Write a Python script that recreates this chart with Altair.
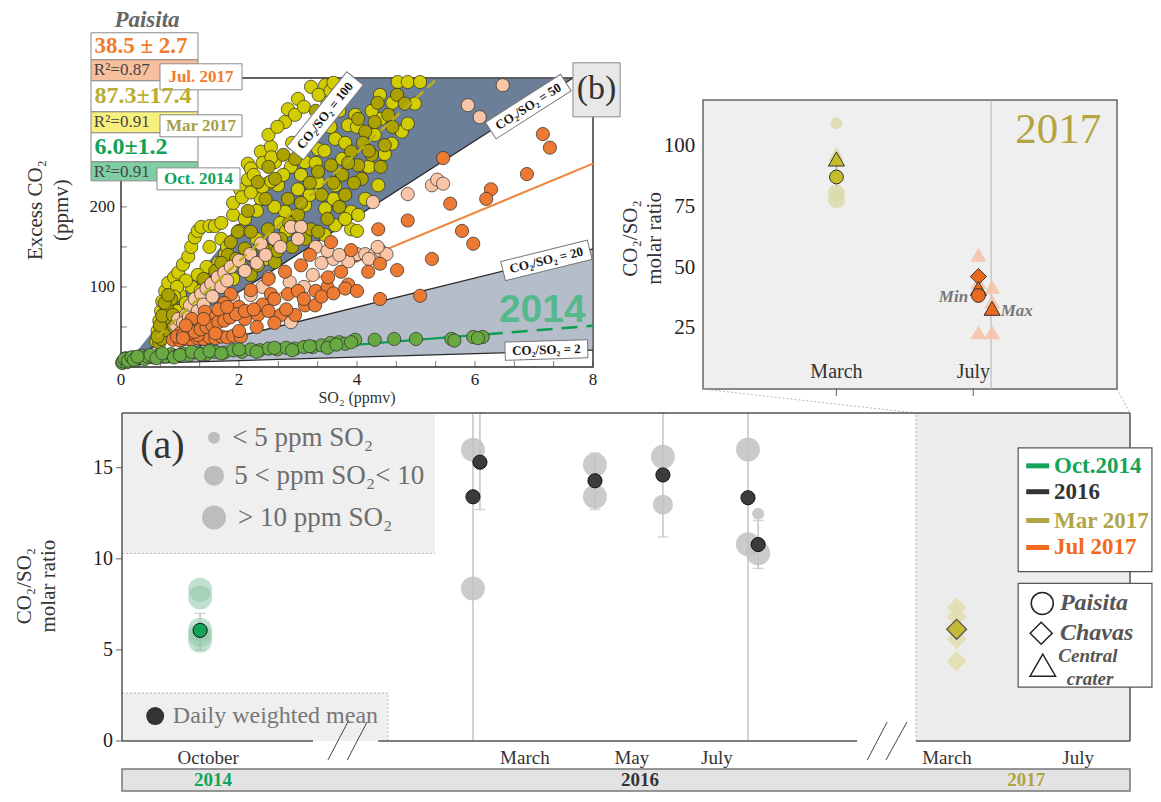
import math
import altair as alt
import pandas as pd

SERIF = "Liberation Serif"
SANS = "Liberation Sans"

# ===================== Panel (b): SO2 vs excess CO2 (ppmv) =====================
mar2017_bright = [
    (0.6, 32), (0.62, 45), (0.65, 58), (0.68, 70), (0.7, 82), (0.75, 95), (0.8, 105), (0.9, 112), (0.97, 118),
    (1.05, 128), (1.14, 138), (1.19, 150), (1.25, 162), (1.3, 170), (1.36, 175), (1.5, 176), (1.59, 176),
    (1.7, 180), (1.76, 140), (1.98, 131), (1.9, 190), (2.02, 222), (2.15, 234), (2.15, 254), (2.2, 248),
    (2.37, 269), (2.37, 210), (2.54, 275), (2.61, 256), (2.66, 227), (2.78, 306), (2.78, 194), (2.83, 322),
    (2.88, 250), (3.0, 335), (3.0, 222), (3.12, 256), (3.12, 202), (3.22, 350), (3.34, 272), (3.34, 231),
    (3.46, 352), (3.46, 198), (3.63, 285), (3.63, 227), (3.63, 177), (3.85, 302), (3.9, 194), (3.9, 172),
    (3.97, 315), (4.02, 190), (4.14, 210), (4.36, 227), (4.47, 266), (4.59, 279), (4.76, 294), (4.86, 304),
    (4.98, 329), (4.39, 340), (4.69, 356), (4.86, 356), (5.07, 356), (3.3, 300), (3.5, 330), (2.9, 280),
    (2.5, 230), (2.3, 195), (2.0, 170), (1.7, 160), (1.5, 150), (2.1, 185), (3.75, 260), (3.2, 215),
    (2.7, 180), (4.2, 250), (4.3, 290), (1.2, 100), (1.0, 90), (0.85, 75), (0.7, 40),
    (1.9, 205), (2.05, 212), (2.2, 218), (2.4, 225), (2.55, 232), (2.75, 240), (2.4, 255), (2.55, 262),
    (2.25, 240), (2.5, 290), (2.65, 300), (2.95, 315), (3.1, 325), (3.35, 340), (3.55, 345), (3.6, 355),
    (3.15, 290), (3.45, 270), (3.55, 300), (3.7, 320), (3.8, 280), (4.0, 300), (4.4, 310), (4.6, 330),
    (4.25, 320), (1.8, 150), (1.65, 130), (1.45, 125), (1.3, 115), (1.1, 108), (0.95, 100), (0.9, 88),
    (0.8, 60), (0.75, 50), (0.95, 70), (1.1, 80), (1.35, 95), (1.55, 105), (2.3, 160), (2.6, 200),
    (2.8, 170), (3.05, 240), (3.3, 255), (3.6, 210), (3.8, 185), (4.0, 170), (3.45, 165), (2.45, 135),
    (2.2, 140), (1.9, 110)]
mar2017_dark = [
    (0.65, 30), (0.68, 42), (0.7, 50), (0.72, 60), (0.75, 68), (0.78, 76), (0.82, 55), (0.85, 85), (0.68, 35),
    (0.74, 46), (1.81, 140), (1.86, 156), (1.98, 169), (2.1, 148), (2.2, 115), (2.2, 169), (2.32, 127),
    (2.32, 231), (2.49, 172), (2.61, 131), (2.61, 235), (2.71, 160), (2.83, 210), (3.12, 160), (3.22, 172),
    (3.34, 169), (3.34, 244), (3.56, 252), (3.9, 269), (4.02, 310), (4.02, 252), (4.08, 235), (4.14, 294),
    (4.25, 265), (4.3, 306), (4.47, 277), (4.53, 315), (4.68, 340), (4.81, 329), (3.7, 200), (3.8, 215),
    (3.95, 230), (3.0, 190), (2.9, 150), (2.5, 145), (1.6, 120), (1.4, 110), (3.5, 185), (4.1, 280), (3.75, 240),
    (0.62, 38), (0.66, 52), (0.7, 64), (0.74, 80), (0.8, 90), (0.88, 65), (0.9, 50), (1.7, 130), (1.95, 135),
    (2.05, 125), (2.4, 150), (2.65, 145), (2.85, 180), (3.05, 205), (3.2, 230), (3.4, 215), (3.6, 230),
    (3.85, 255), (4.2, 270), (4.35, 330), (4.6, 300), (4.4, 250), (3.1, 280), (2.95, 260), (2.75, 265),
    (2.5, 250), (2.45, 210), (2.15, 195), (3.6, 320), (3.3, 320)]
jul2017_light = [
    (0.93, 52), (0.97, 60), (1.05, 45), (1.1, 65), (1.17, 77), (1.25, 85), (1.36, 91), (1.45, 98), (1.53, 104),
    (1.64, 112), (1.75, 118), (1.86, 125), (2.0, 133), (2.19, 141), (2.37, 154), (2.88, 175), (3.05, 175),
    (3.25, 115), (2.86, 106), (2.88, 56), (3.97, 140), (4.0, 141), (4.14, 141), (4.3, 141), (4.2, 135),
    (4.4, 145), (4.5, 141), (4.35, 150), (4.27, 206), (4.86, 216), (5.27, 227), (5.36, 234), (5.46, 229),
    (5.88, 327), (6.08, 312), (6.47, 352), (3.1, 100), (3.4, 130), (3.6, 135), (2.6, 160), (1.2, 55),
    (1.0, 40), (3.85, 132), (2.5, 112),
    (1.05, 55), (1.15, 62), (1.3, 70), (1.4, 78), (1.55, 88), (1.7, 100), (1.8, 108), (2.1, 120), (2.3, 130),
    (2.45, 140), (2.7, 150), (3.0, 160), (3.3, 150), (3.5, 145), (3.7, 140), (2.2, 90), (2.4, 100), (1.6, 70),
    (1.9, 85)]
jul2017_orange = [
    (0.88, 34), (1.0, 33), (1.1, 35), (1.2, 34), (1.3, 36), (1.4, 35), (1.5, 37), (1.6, 36), (1.7, 38),
    (1.8, 37), (1.9, 39), (2.03, 38), (1.0, 42), (1.2, 45), (1.3, 50), (1.42, 69), (1.2, 60), (1.5, 55),
    (1.6, 62), (1.86, 91), (2.2, 96), (2.54, 91), (2.83, 91), (3.05, 127), (3.56, 156), (3.73, 119),
    (3.85, 103), (2.32, 65), (2.71, 65), (2.95, 65), (3.12, 77), (3.29, 77), (2.1, 60), (2.0, 75), (1.75, 80),
    (2.4, 78), (2.6, 85), (3.0, 95), (3.3, 95), (3.5, 100), (4.36, 172), (4.39, 129), (4.19, 119), (4.68, 121),
    (5.27, 135), (5.78, 170), (5.97, 154), (4.39, 85), (5.07, 89), (5.46, 261), (6.56, 312), (7.15, 291),
    (7.27, 274), (6.88, 241), (6.27, 222), (6.19, 210), (5.58, 204), (4.86, 183), (3.9, 146), (3.51, 112),
    (2.78, 119), (3.2, 140), (2.5, 110), (1.3, 40), (1.15, 48),
    (0.95, 38), (1.05, 40), (1.15, 42), (1.25, 44), (1.35, 47), (1.45, 50), (1.55, 52), (1.65, 56), (1.75, 58),
    (1.85, 62), (1.95, 66), (2.1, 70), (2.25, 72), (1.4, 60), (1.1, 52), (1.65, 72), (1.8, 75), (2.5, 70),
    (2.8, 72), (3.1, 85), (3.4, 88), (3.6, 92), (3.8, 98), (4.0, 95), (1.05, 36), (1.6, 42), (2.0, 45),
    (2.3, 50), (2.6, 55)]
oct2014_green = [
    (0.02, 5), (0.05, 8), (0.08, 11), (0.1, 6), (0.15, 9), (0.2, 12), (0.25, 8), (0.3, 11), (0.35, 14),
    (0.4, 10), (0.45, 13), (0.55, 12), (0.65, 15), (0.75, 13), (0.85, 16), (0.95, 14), (1.05, 17), (1.15, 15),
    (1.3, 18), (1.45, 16), (1.6, 19), (1.75, 18), (1.9, 21), (2.05, 19), (2.2, 22), (2.35, 21), (2.5, 23),
    (2.65, 22), (2.8, 24), (2.95, 23), (3.1, 25), (3.25, 25), (3.4, 27), (3.55, 30), (3.7, 31), (3.8, 29),
    (3.97, 34), (4.3, 34), (4.63, 35), (5.0, 35), (5.6, 35), (5.65, 33), (5.97, 37.5), (6.13, 37.5), (6.05, 36),
    (0.03, 7), (0.06, 10), (0.12, 8), (0.18, 12), (0.22, 9), (0.28, 13), (0.5, 15), (0.6, 11), (0.7, 17),
    (0.9, 12), (1.0, 15), (1.2, 19), (1.35, 16), (1.5, 20), (1.7, 17), (2.0, 22), (2.3, 19), (2.6, 24),
    (2.9, 21), (3.2, 26), (3.5, 24), (3.65, 28), (3.9, 31)]

fit_jul2017 = [(0.9, 37), (8.0, 254)]
fit_mar2017 = [(0.61, 37.5), (5.37, 361)]
fit_oct2014_solid = [(0.0, 4), (6.2, 41)]
fit_oct2014_dash = [(6.2, 41), (8.0, 51.5)]

ratio_labels = ["CO₂/SO₂ = 100", "CO₂/SO₂ = 50", "CO₂/SO₂ = 20", "CO₂/SO₂ = 2"]
ratio_start = (0.1, 4)
ratio_end_so2 = [3.97, 7.66, 8.0, 8.0]
ratio_end_co2 = [361, 361, 147.5, 21]
dark_wedge_so2 = [0.1, 3.97, 7.66]
dark_wedge_top = [4, 361, 361]
dark_wedge_bottom = [4, 186.7, 361]
light_wedge_so2 = [0.1, 8.0]
light_wedge_top = [4, 147.5]
light_wedge_bottom = [4, 21]

slope_values = ["38.5 ± 2.7", "87.3±17.4", "6.0±1.2"]
r2_values = ["R²=0.87", "R²=0.91", "R²=0.91"]
campaigns_b = ["Jul. 2017", "Mar 2017", "Oct. 2014"]
campaign_colors_b = ["#f07c2c", "#a69e48", "#0ea356"]
r2_fills = ["#f7bf9c", "#f8f07e", "#7fcea4"]

# ===================== Top-right panel: 2017 CO2/SO2 =====================
tr_faded_x = [3, 3, 3, 3, 7.15, 7.15, 7.15, 7.55, 7.55, 7.55]
tr_faded_y = [109.4, 80.7, 77.9, 97, 55.3, 44, 23.4, 42, 36, 23.4]
tr_faded_shape = ["circle", "circle", "circle", "triangle-up", "triangle-up", "triangle-up", "triangle-up",
                  "triangle-up", "triangle-up", "triangle-up"]
tr_faded_month = ["Mar", "Mar", "Mar", "Mar", "Jul", "Jul", "Jul", "Jul", "Jul", "Jul"]
tr_mean_x = [3, 3, 7.15, 7.15, 7.15, 7.55]
tr_mean_y = [94.7, 87.3, 46.3, 41.4, 38.5, 33.2]
tr_mean_shape = ["triangle-up", "circle", "diamond", "triangle-up", "circle", "triangle-up"]
tr_mean_month = ["Mar", "Mar", "Jul", "Jul", "Jul", "Jul"]
tr_err_x = [3]
tr_err_lo = [83]
tr_err_hi = [92]

# ===================== Panel (a): CO2/SO2 molar ratio time series =====================
faded_pos = [1.46, 1.46, 1.46, 1.46, 1.46, 6.56, 6.56, 8.84, 8.84, 10.11, 10.11, 11.7, 11.7, 11.89, 11.89]
faded_ratio = [8.3, 7.88, 6.1, 5.8, 5.5, 15.98, 8.37, 15.16, 13.4, 15.6, 12.97, 16.0, 10.8, 12.47, 10.3]
faded_class = [">10", ">10", ">10", ">10", ">10", ">10", ">10", ">10", ">10", ">10", "5-10", ">10", ">10",
               "<5", ">10"]
faded_year = ["2014"] * 5 + ["2016"] * 10
mean_pos = [1.46, 6.56, 6.69, 8.84, 10.11, 11.7, 11.89]
mean_ratio = [6.07, 13.4, 15.3, 14.28, 14.6, 13.35, 10.78]
mean_year = ["2014", "2016", "2016", "2016", "2016", "2016", "2016"]
err_pos = [1.46, 6.69, 8.84, 10.11, 11.89]
err_lo = [5.0, 12.7, 12.7, 11.2, 9.47]
err_hi = [7.0, 18.0, 15.8, 18.0, 12.1]
full_err_pos = [6.56, 11.7]
chavas_pos = 15.6
chavas_faded = [7.33, 6.8, 5.6, 4.38]
chavas_mean = 6.13
month_labels = ["October", "March", "May", "July", "March", "July"]
month_pos = [1.61, 7.53, 9.53, 11.12, 15.42, 17.87]
years = ["2014", "2016", "2017"]
year_pos = [1.70, 9.68, 16.9]
year_colors = ["#14a35a", "#333333", "#b0a53f"]
legend_series = ["Oct.2014", "2016", "Mar 2017", "Jul 2017"]
legend_colors = ["#14a35a", "#333333", "#b1a545", "#f26a1b"]
legend_sites = ["Paisita", "Chavas", "Central", "crater"]
size_classes = ["< 5 ppm SO₂", "5 < ppm SO₂< 10", "> 10 ppm SO₂"]
size_px = {"<5": 144, "5-10": 400, ">10": 576}

# ------------------------------------------------------------------
# One canvas; each panel gets its own scales placed on it.
W, H, OFF = 1145, 786, 8


def xscale(p0, p1, d0, d1):
    k = (p1 - p0) / (d1 - d0)
    return alt.Scale(domain=[d0 + (OFF - p0) / k, d0 + (W + OFF - p0) / k], nice=False, zero=False)


def yscale(p0, p1, d0, d1):
    k = (p1 - p0) / (d1 - d0)
    return alt.Scale(domain=[d0 + (H + OFF - p0) / k, d0 + (OFF - p0) / k], nice=False, zero=False)


XB, YB = xscale(121, 593, 0, 8), yscale(367, 78, 0, 361)
KXB, KYB = 472 / 8, 289 / 361
XT, YT = xscale(703, 1117, -0.9, 11.2), yscale(389, 100, 0, 119)
XA, YA = xscale(122, 1130, 0, 18.84), yscale(741, 413, 0, 18)


def qx(f, sc):
    return alt.X(f, type="quantitative", scale=sc, axis=None)


def qy(f, sc):
    return alt.Y(f, type="quantitative", scale=sc, axis=None)


def pairs_df(pairs):
    return pd.DataFrame({"so2": [p[0] for p in pairs], "co2": [p[1] for p in pairs]})


def text_layer(rows, sx, sy, **mk):
    df = pd.DataFrame(rows, columns=["t", "x", "y", "c", "s"])
    opts = dict(font=SERIF, baseline="middle")
    opts.update(mk)
    return alt.Chart(df).mark_text(**opts).encode(
        x=qx("x", sx), y=qy("y", sy), text="t:N",
        color=alt.Color("c:N", scale=None), size=alt.Size("s:Q", scale=None))


def seg_layer(rows, sx, sy, **mk):
    df = pd.DataFrame(rows, columns=["x1", "y1", "x2", "y2"])
    return alt.Chart(df).mark_rule(**mk).encode(
        x=qx("x1", sx), y=qy("y1", sy), x2=alt.X2("x2"), y2=alt.Y2("y2"))


def rect_layer(rows, sx, sy, **mk):
    df = pd.DataFrame(rows, columns=["x1", "x2", "y1", "y2", "fill"])
    return alt.Chart(df).mark_rect(**mk).encode(
        x=qx("x1", sx), x2=alt.X2("x2"), y=qy("y1", sy), y2=alt.Y2("y2"),
        color=alt.Color("fill:N", scale=None))


def frame_layer(x0, x1, y0, y1, sx, sy, **mk):
    df = pd.DataFrame({"x1": [x0], "x2": [x1], "y1": [y0], "y2": [y1]})
    return alt.Chart(df).mark_rect(**mk).encode(
        x=qx("x1", sx), x2=alt.X2("x2"), y=qy("y1", sy), y2=alt.Y2("y2"))


# ===================== panel (b) =====================
b_frame = frame_layer(0, 8, 0, 361, XB, YB, fill="white", stroke="#555", strokeWidth=1.3)
b_dark = alt.Chart(pd.DataFrame({"x": dark_wedge_so2, "hi": dark_wedge_top, "lo": dark_wedge_bottom})
                   ).mark_area(color="#6b7f99", opacity=1).encode(x=qx("x", XB), y=qy("hi", YB), y2=alt.Y2("lo"))
b_light = alt.Chart(pd.DataFrame({"x": light_wedge_so2, "hi": light_wedge_top, "lo": light_wedge_bottom})
                    ).mark_area(color="#b5bdcb", opacity=1).encode(x=qx("x", XB), y=qy("hi", YB), y2=alt.Y2("lo"))
b_border = frame_layer(0, 8, 0, 361, XB, YB, fillOpacity=0, stroke="#555", strokeWidth=1.3)

ratio_rows = [(ratio_start[0], ratio_start[1], ratio_end_so2[i], ratio_end_co2[i]) for i in range(1, 4)]
b_ratio_lines = seg_layer(ratio_rows, XB, YB, color="#2b2b2b", strokeWidth=1.3)

lab = []
for i, t in enumerate([0.868, 0.9, 0.9, 0.9]):
    x0, y0 = ratio_start
    lx = x0 + t * (ratio_end_so2[i] - x0)
    ly = y0 + t * (ratio_end_co2[i] - y0) + (2 if i == 3 else 0)
    dxp = (ratio_end_so2[i] - x0) * KXB
    dyp = (ratio_end_co2[i] - y0) * KYB
    ang = (360 - math.degrees(math.atan2(dyp, dxp))) % 360
    length = len(ratio_labels[i]) * 6.6 + 10
    lab.append({"t": ratio_labels[i], "x": lx, "y": ly, "ang": ang, "sz": length ** 2})
lab_df = pd.DataFrame(lab)
b_lab_box = alt.Chart(lab_df).mark_point(
    shape="M-1,-0.22L1,-0.22L1,0.22L-1,0.22Z", filled=True, fill="white", stroke="#777",
    strokeWidth=1, opacity=1).encode(
    x=qx("x", XB), y=qy("y", YB), angle=alt.Angle("ang:Q", scale=None), size=alt.Size("sz:Q", scale=None))
b_lab_txt = alt.Chart(lab_df).mark_text(font=SERIF, fontWeight="bold", fontSize=13, color="#151515").encode(
    x=qx("x", XB), y=qy("y", YB), text="t:N", angle=alt.Angle("ang:Q", scale=None))

fit_solid = seg_layer([fit_jul2017[0] + fit_jul2017[1]], XB, YB, color="#f0833a", strokeWidth=2)
fit_olive = seg_layer([fit_mar2017[0] + fit_mar2017[1]], XB, YB, color="#b8ae1c", strokeWidth=2.5,
                      strokeDash=[10, 6])
fit_green1 = seg_layer([fit_oct2014_solid[0] + fit_oct2014_solid[1]], XB, YB, color="#0ca050", strokeWidth=2.2)
fit_green2 = seg_layer([fit_oct2014_dash[0] + fit_oct2014_dash[1]], XB, YB, color="#0ca050", strokeWidth=2.5,
                       strokeDash=[16, 9])


def scatter(pairs, fill):
    return alt.Chart(pairs_df(pairs)).mark_circle(
        color=fill, stroke="#2a2a2a", strokeWidth=0.7, size=175, opacity=1).encode(
        x=qx("so2", XB), y=qy("co2", YB))


b_pts = [scatter(mar2017_bright, "#d2cd00"), scatter(mar2017_dark, "#aba200"),
         scatter(jul2017_light, "#f8c6a6"), scatter(jul2017_orange, "#ec7a33"),
         scatter(oct2014_green, "#69a944")]

b_2014 = text_layer([("2014", 7.14, 71, "#55b98b", 39)], XB, YB, font=SANS, fontWeight="bold")

bx0, bx1 = -0.508, 1.305
b_boxes = rect_layer([
    (bx0, bx1, 417.5, 383.75, "white"), (bx0, bx1, 383.75, 357.5, r2_fills[0]),
    (bx0, bx1, 357.5, 318.75, "white"), (bx0, bx1, 318.75, 292.5, r2_fills[1]),
    (bx0, bx1, 292.5, 256.25, "white"), (bx0, bx1, 256.25, 232.5, r2_fills[2]),
    (0.661, 2.051, 378.75, 346.25, "white"), (0.661, 2.051, 315, 287.5, "white"),
    (0.61, 2.017, 248.75, 221.25, "white"), (7.66, 8.46, 380, 312.5, "#e8e8e8")],
    XB, YB, stroke="#8a8a8a", strokeWidth=1)
b_slopes = text_layer([(slope_values[0], -0.45, 400.5, campaign_colors_b[0], 23),
                       (slope_values[1], -0.45, 338, "#b8ae35", 24),
                       (slope_values[2], -0.45, 274.5, campaign_colors_b[2], 24)],
                      XB, YB, fontWeight="bold", align="left")
b_camps = text_layer([(campaigns_b[0], 1.356, 362, campaign_colors_b[0], 17),
                      (campaigns_b[1], 1.356, 301.5, campaign_colors_b[1], 17),
                      (campaigns_b[2], 1.314, 235, campaign_colors_b[2], 17)],
                     XB, YB, fontWeight="bold", align="center")
b_r2 = text_layer([(r2_values[0], -0.46, 370.5, "#444444", 17), (r2_values[1], -0.46, 305.5, "#444444", 17),
                   (r2_values[2], -0.46, 244, "#444444", 17)], XB, YB, align="left")
b_lbl = text_layer([("(b)", 8.06, 347, "#333333", 34)], XB, YB, align="center")
b_site = text_layer([("Paisita", 0.44, 424.5, "#666666", 23)], XB, YB, fontWeight="bold", fontStyle="italic",
                    baseline="alphabetic")

so2_ticks = [0, 0.667, 1.333, 2, 2.667, 3.333, 4, 4.667, 5.333, 6, 6.667, 7.333, 8]
so2_labels = [0, 2, 4, 6, 8]
co2_ticks = [50, 100, 150, 200]
co2_labels = [100, 200]
b_xt = alt.Chart(pd.DataFrame({"v": so2_ticks, "z": 0})).mark_tick(
    orient="vertical", size=6, thickness=1, color="#444", yOffset=-3).encode(x=qx("v", XB), y=qy("z", YB))
b_yt = alt.Chart(pd.DataFrame({"v": co2_ticks, "z": 0})).mark_tick(
    orient="horizontal", size=6, thickness=1, color="#444", xOffset=3).encode(x=qx("z", XB), y=qy("v", YB))
b_xl = text_layer([(str(v), v, -16.5, "#222222", 17) for v in so2_labels], XB, YB)
b_yl = text_layer([(str(v), -0.1, v, "#222222", 17) for v in co2_labels], XB, YB, align="right")
b_xtitle = text_layer([("SO₂ (ppmv)", 4, -38.5, "#333333", 16)], XB, YB)
b_ytitle = text_layer([("Excess CO₂", -1.44, 196, "#333333", 21), ("(ppmv)", -1.0, 196, "#333333", 21)],
                      XB, YB, angle=270)

b_layers = [b_frame, b_dark, b_light, b_border, b_ratio_lines, fit_solid, fit_green1, fit_green2, *b_pts,
            fit_olive, b_lab_box, b_lab_txt, b_2014, b_boxes, b_slopes, b_camps, b_r2, b_lbl, b_site,
            b_xt, b_yt, b_xl, b_yl, b_xtitle, b_ytitle]

# ===================== top-right panel =====================
tr_frame = frame_layer(-0.9, 11.2, 0, 119, XT, YT, fill="#efefef", stroke="#666", strokeWidth=1.5)
tr_vline = seg_layer([(7.52, 0, 7.52, 119)], XT, YT, color="#b4b4b4", strokeWidth=1)
tr_err = seg_layer([(tr_err_x[0], tr_err_lo[0], tr_err_x[0], tr_err_hi[0])], XT, YT, color="#aaaaaa",
                   strokeWidth=1.5)
tr_ticks = alt.Chart(pd.DataFrame({"v": [3, 7], "z": 0})).mark_tick(
    orient="vertical", size=7, thickness=1.2, color="#444", yOffset=3.5).encode(x=qx("v", XT), y=qy("z", YT))

faded_col = {"Mar": "#dcdaa9", "Jul": "#f6c2a6"}
solid_col = {"Mar": "#c6bd2c", "Jul": "#ea6a1f"}
tr_faded_df = pd.DataFrame({"x": tr_faded_x, "y": tr_faded_y, "shape": tr_faded_shape,
                            "fill": [faded_col[m] for m in tr_faded_month],
                            "size": [144 if s == "circle" and y > 100 else (289 if s == "circle" else 260)
                                     for s, y in zip(tr_faded_shape, tr_faded_y)]})
tr_faded = alt.Chart(tr_faded_df).mark_point(filled=True, opacity=0.85, strokeWidth=0).encode(
    x=qx("x", XT), y=qy("y", YT), shape=alt.Shape("shape:N", scale=None),
    color=alt.Color("fill:N", scale=None), size=alt.Size("size:Q", scale=None))
tr_mean_df = pd.DataFrame({"x": tr_mean_x, "y": tr_mean_y, "shape": tr_mean_shape,
                           "fill": [solid_col[m] for m in tr_mean_month],
                           "size": [260 if s != "circle" else 190 for s in tr_mean_shape]})
tr_mean = alt.Chart(tr_mean_df).mark_point(filled=True, opacity=1, stroke="#333", strokeWidth=1).encode(
    x=qx("x", XT), y=qy("y", YT), shape=alt.Shape("shape:N", scale=None),
    color=alt.Color("fill:N", scale=None), size=alt.Size("size:Q", scale=None))
tr_months = text_layer([("March", 3, 7, "#333333", 20), ("July", 7, 7, "#333333", 20)], XT, YT)
tr_year = text_layer([("2017", 9.48, 106.6, "#b3a43f", 43)], XT, YT)
tr_min = text_layer([("Min", 6.85, 38, "#777777", 17)], XT, YT, align="right", fontWeight="bold",
                    fontStyle="italic")
tr_max = text_layer([("Max", 7.8, 32, "#777777", 17)], XT, YT, align="left", fontWeight="bold",
                    fontStyle="italic")
tr_yl = text_layer([(str(v), -1.13, v, "#222222", 21) for v in [25, 50, 75, 100]], XT, YT, align="right")
tr_ytitle = text_layer([("CO₂/SO₂", -3.0, 62, "#333333", 21), ("molar ratio", -2.3, 62, "#333333", 21)],
                       XT, YT, angle=270)

tr_layers = [tr_frame, tr_vline, tr_err, tr_ticks, tr_faded, tr_mean, tr_months, tr_year, tr_min, tr_max,
             tr_yl, tr_ytitle]

# ===================== panel (a) =====================
a_bg = rect_layer([(14.84, 18.84, 0, 18, "#ececec"), (0, 5.85, 10.29, 18, "#efefef"),
                   (0, 4.97, 0, 2.63, "#efefef")], XA, YA)
a_dotted = seg_layer([(14.84, 0, 14.84, 18), (0, 10.29, 5.85, 10.29), (0, 2.63, 4.97, 2.63),
                      (4.97, 0, 4.97, 2.63), (10.86, 19.31, 14.84, 18), (18.6, 19.31, 18.84, 18)],
                     XA, YA, color="#b5b5b5", strokeWidth=1, strokeDash=[2, 2])
a_full = seg_layer([(x, 0, x, 18) for x in full_err_pos], XA, YA, color="#c4c4c4", strokeWidth=1.5)
err_df = pd.DataFrame({"x": err_pos, "lo": err_lo, "hi": err_hi})
a_err = alt.Chart(err_df).mark_rule(color="#c4c4c4", strokeWidth=1.5).encode(
    x=qx("x", XA), y=qy("lo", YA), y2=alt.Y2("hi"))
a_cap_lo = alt.Chart(err_df).mark_tick(orient="horizontal", size=11, thickness=1.5, color="#c4c4c4").encode(
    x=qx("x", XA), y=qy("lo", YA))
a_cap_hi = alt.Chart(err_df).mark_tick(orient="horizontal", size=11, thickness=1.5, color="#c4c4c4").encode(
    x=qx("x", XA), y=qy("hi", YA))

faded_df = pd.DataFrame({"x": faded_pos, "y": faded_ratio, "size": [size_px[c] for c in faded_class],
                         "fill": ["#8fc6a8" if y == "2014" else "#c2c2c2" for y in faded_year],
                         "op": [0.55 if y == "2014" else 0.85 for y in faded_year]})
a_faded = alt.Chart(faded_df).mark_circle().encode(
    x=qx("x", XA), y=qy("y", YA), size=alt.Size("size:Q", scale=None),
    color=alt.Color("fill:N", scale=None), opacity=alt.Opacity("op:Q", scale=None))
a_ch_faded = alt.Chart(pd.DataFrame({"x": [chavas_pos] * len(chavas_faded), "y": chavas_faded})).mark_point(
    shape="diamond", filled=True, color="#e2deb0", opacity=0.9, size=400).encode(x=qx("x", XA), y=qy("y", YA))
mean_df = pd.DataFrame({"x": mean_pos, "y": mean_ratio,
                        "fill": ["#12a55a" if y == "2014" else "#3b3b3b" for y in mean_year]})
a_mean = alt.Chart(mean_df).mark_circle(size=200, stroke="#111", strokeWidth=1, opacity=1).encode(
    x=qx("x", XA), y=qy("y", YA), color=alt.Color("fill:N", scale=None))
a_ch_mean = alt.Chart(pd.DataFrame({"x": [chavas_pos], "y": [chavas_mean]})).mark_point(
    shape="diamond", filled=True, color="#c2b934", stroke="#555", strokeWidth=1.2, opacity=1, size=400).encode(
    x=qx("x", XA), y=qy("y", YA))

a_frame = seg_layer([(0, 0, 0, 18), (0, 18, 18.84, 18), (18.84, 0, 18.84, 18), (0, 0, 3.57, 0),
                     (4.79, 0, 13.74, 0), (14.84, 0, 18.84, 0)], XA, YA, color="#555", strokeWidth=1.5)
a_slash = seg_layer([(3.85, -1.04, 4.22, 1.04), (4.21, -1.04, 4.58, 1.04), (13.93, -1.04, 14.3, 1.04),
                     (14.28, -1.04, 14.67, 1.04)], XA, YA, color="#444", strokeWidth=1)
ratio_ticks = [0, 5, 10, 15]
a_yt = alt.Chart(pd.DataFrame({"v": ratio_ticks, "z": 0})).mark_tick(
    orient="horizontal", size=6, thickness=1.2, color="#444", xOffset=-3).encode(x=qx("z", XA), y=qy("v", YA))
a_yl = text_layer([(str(v), -0.17, v, "#222222", 20) for v in ratio_ticks], XA, YA, align="right")
a_ytitle = text_layer([("CO₂/SO₂", -1.81, 8.5, "#333333", 21), ("molar ratio", -1.37, 8.5, "#333333", 21)],
                      XA, YA, angle=270)

a_tag = text_layer([("(a)", 0.34, 16.2, "#333333", 40)], XA, YA, align="left")
a_leg_size = alt.Chart(pd.DataFrame({"x": [1.72] * 3, "y": [16.64, 14.56, 12.26], "size": [144, 400, 576]})
                       ).mark_circle(color="#bdbdbd", opacity=1).encode(
    x=qx("x", XA), y=qy("y", YA), size=alt.Size("size:Q", scale=None))
a_leg_size_txt = text_layer([(size_classes[0], 2.06, 16.64, "#6d6d6d", 27),
                             (size_classes[1], 2.1, 14.56, "#6d6d6d", 27),
                             (size_classes[2], 2.17, 12.26, "#6d6d6d", 27)], XA, YA, align="left")
a_leg_mean = alt.Chart(pd.DataFrame({"x": [0.62], "y": [1.37]})).mark_circle(
    color="#333", size=324, opacity=1).encode(x=qx("x", XA), y=qy("y", YA))
a_leg_mean_txt = text_layer([("Daily weighted mean", 0.95, 1.37, "#777777", 24)], XA, YA, align="left")

a_leg_boxes = rect_layer([(16.75, 19.25, 9.3, 16.09, "white"), (16.75, 19.25, 2.96, 8.65, "white")],
                         XA, YA, stroke="#555", strokeWidth=1.2)
sw_y = [15.1, 13.68, 12.1, 10.62]
a_sw = alt.Chart(pd.DataFrame({"x1": [16.9] * 4, "x2": [17.33] * 4, "y": sw_y, "c": legend_colors})
                 ).mark_rule(strokeWidth=5).encode(
    x=qx("x1", XA), x2=alt.X2("x2"), y=qy("y", YA), color=alt.Color("c:N", scale=None))
a_sw_txt = text_layer([(legend_series[i], 17.42, sw_y[i], legend_colors[i], 23) for i in range(4)],
                      XA, YA, align="left", fontWeight="bold")
sym_df = pd.DataFrame({"x": [17.2, 17.18, 17.21], "y": [7.55, 5.91, 4.16],
                       "shape": ["circle", "diamond", "triangle-up"], "size": [484, 484, 650]})
a_sym = alt.Chart(sym_df).mark_point(filled=False, color="#222", strokeWidth=1.5, opacity=1).encode(
    x=qx("x", XA), y=qy("y", YA), shape=alt.Shape("shape:N", scale=None), size=alt.Size("size:Q", scale=None))
a_sym_txt = text_layer([(legend_sites[0], 17.53, 7.55, "#555555", 24), (legend_sites[1], 17.53, 5.91, "#555555", 24)],
                       XA, YA, align="left", fontWeight="bold", fontStyle="italic")
a_sym_txt2 = text_layer([(legend_sites[2], 17.5, 4.66, "#555555", 19), (legend_sites[3], 17.66, 3.42, "#555555", 19)],
                        XA, YA, align="left", fontWeight="bold", fontStyle="italic")
a_months = text_layer([(month_labels[i], month_pos[i], -0.93, "#333333", 19) for i in range(6)], XA, YA)

# year bar below the time axis
a_yearbar = rect_layer([(0, 18.84, -1.54, -2.74, "#e3e3e5")], XA, YA, stroke="#777", strokeWidth=1.5)
a_years = text_layer([(years[i], year_pos[i], -2.14, year_colors[i], 19) for i in range(3)], XA, YA,
                     fontWeight="bold")

a_layers = [a_bg, a_dotted, a_full, a_err, a_cap_lo, a_cap_hi, a_faded, a_ch_faded, a_mean, a_ch_mean,
            a_frame, a_slash, a_yt, a_yl, a_ytitle, a_tag, a_leg_size, a_leg_size_txt, a_leg_mean,
            a_leg_mean_txt, a_leg_boxes, a_sw, a_sw_txt, a_sym, a_sym_txt, a_sym_txt2, a_months,
            a_yearbar, a_years]

chart = alt.layer(*(b_layers + tr_layers + a_layers)).resolve_scale(
    x="independent", y="independent"
).properties(width=W, height=H, padding=0).configure_view(stroke=None)

chart.save("out.html", embed_options={"renderer": "svg", "actions": False})
